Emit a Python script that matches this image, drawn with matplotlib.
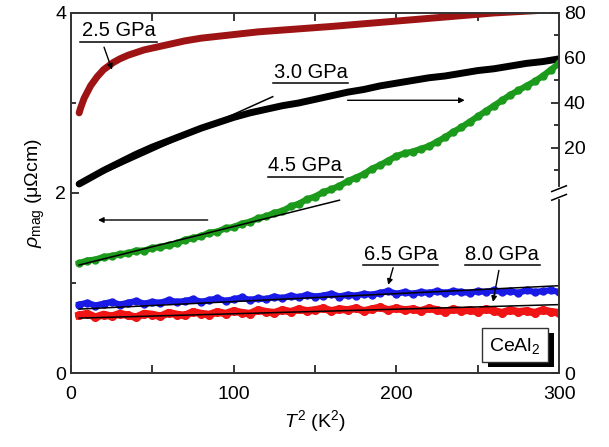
import matplotlib
matplotlib.use("Agg")
import matplotlib.pyplot as plt
from matplotlib.patches import Rectangle
import numpy as np

plt.rcParams['font.family'] = ['Liberation Sans', 'DejaVu Sans']
plt.rcParams['mathtext.fontset'] = 'custom'
plt.rcParams['mathtext.it'] = 'Liberation Sans:italic'
plt.rcParams['mathtext.rm'] = 'Liberation Sans'

# ---- data (T^2 in K^2, rho_mag in left-axis units) ----
x25 = [5, 6, 7, 8, 10, 12, 14, 16, 18, 20, 23, 26, 30, 35, 40, 45, 50, 60, 70, 80,
       90, 100, 115, 130, 145, 160, 180, 200, 220, 240, 260, 280, 300]
y25 = [2.89, 2.95, 3.00, 3.05, 3.12, 3.19, 3.24, 3.29, 3.33, 3.37, 3.41, 3.45, 3.49,
       3.53, 3.56, 3.59, 3.61, 3.65, 3.69, 3.72, 3.74, 3.76, 3.79, 3.81, 3.83, 3.85,
       3.88, 3.91, 3.94, 3.97, 4.00, 4.02, 4.04]

x30 = [5, 10, 20, 30, 40, 50, 60, 70, 80, 90, 100, 110, 120, 130, 140, 150, 160, 170,
       180, 190, 200, 210, 220, 230, 240, 250, 260, 270, 280, 290, 300]
y30 = [2.10, 2.15, 2.25, 2.34, 2.43, 2.51, 2.58, 2.65, 2.72, 2.78, 2.84, 2.89, 2.93,
       2.97, 3.00, 3.04, 3.08, 3.12, 3.15, 3.19, 3.22, 3.25, 3.28, 3.30, 3.33, 3.36,
       3.38, 3.41, 3.44, 3.46, 3.49]

x_noisy = list(range(5, 301, 5))
y45 = [1.22, 1.25, 1.26, 1.29, 1.30, 1.32, 1.33, 1.36, 1.36, 1.39, 1.40, 1.42, 1.44,
       1.48, 1.50, 1.52, 1.56, 1.57, 1.61, 1.62, 1.66, 1.68, 1.72, 1.74, 1.78, 1.80,
       1.85, 1.88, 1.93, 1.96, 2.01, 2.04, 2.08, 2.13, 2.17, 2.21, 2.27, 2.31, 2.36,
       2.41, 2.44, 2.46, 2.49, 2.52, 2.57, 2.62, 2.68, 2.73, 2.79, 2.85, 2.91, 2.97,
       3.03, 3.09, 3.14, 3.19, 3.24, 3.30, 3.37, 3.44]
y65 = [0.76, 0.78, 0.75, 0.77, 0.79, 0.76, 0.78, 0.80, 0.77, 0.79, 0.78, 0.81, 0.79,
       0.80, 0.82, 0.79, 0.81, 0.83, 0.80, 0.82, 0.84, 0.81, 0.83, 0.82, 0.85, 0.83,
       0.86, 0.84, 0.87, 0.85, 0.86, 0.88, 0.85, 0.87, 0.86, 0.88, 0.87, 0.89, 0.91,
       0.88, 0.90, 0.88, 0.90, 0.89, 0.91, 0.89, 0.91, 0.90, 0.89, 0.91, 0.90, 0.92,
       0.90, 0.91, 0.89, 0.92, 0.90, 0.91, 0.92, 0.90]
y80 = [0.64, 0.66, 0.62, 0.65, 0.63, 0.66, 0.64, 0.62, 0.66, 0.65, 0.63, 0.67, 0.65,
       0.64, 0.68, 0.66, 0.65, 0.68, 0.66, 0.69, 0.67, 0.66, 0.70, 0.68, 0.67, 0.70,
       0.68, 0.71, 0.69, 0.70, 0.72, 0.69, 0.71, 0.70, 0.72, 0.69, 0.71, 0.73, 0.70,
       0.72, 0.70, 0.71, 0.69, 0.72, 0.70, 0.68, 0.71, 0.69, 0.70, 0.68, 0.71, 0.69,
       0.67, 0.70, 0.68, 0.69, 0.67, 0.70, 0.68, 0.67]

# linear fits drawn as thin lines: (x0, x1), (y0, y1)
fit30 = ([5, 124], [2.10, 3.07])
fit45 = ([5, 165], [1.20, 1.92])
fit65 = ([5, 300], [0.71, 0.97])
fit80 = ([5, 300], [0.61, 0.76])

right_ticks = [0, 2.5, 3.0, 3.5, 4.0]
right_labels = ['0', '20', '40', '60', '80']

fig = plt.figure(figsize=(6.09, 4.47), dpi=100)
ax = fig.add_axes([0.1166, 0.1655, 0.8014, 0.8055])

ax.plot(x25, y25, color='#9e1414', lw=5, solid_capstyle='round')
ax.plot(x30, y30, color='black', lw=5, solid_capstyle='round')
ax.plot(x_noisy, y45, color='#1c9a1c', lw=4.5, marker='o', ms=5)
ax.plot(x_noisy, y65, color='#1a1ae6', lw=4.5, marker='o', ms=5)
ax.plot(x_noisy, y80, color='#f01414', lw=5.5, marker='o', ms=5.5)

for fx, fy in (fit30, fit45, fit65, fit80):
    ax.plot(fx, fy, color='black', lw=1.1)

ax.set_xlim(0, 300)
ax.set_ylim(0, 4)
ax.set_xticks([0, 100, 200, 300])
ax.set_xticks([50, 150, 250], minor=True)
ax.set_yticks([0, 2, 4])
ax.set_yticks([1, 3], minor=True)
ax.tick_params(which='both', direction='in', top=True, labelsize=14, width=1.1)
ax.tick_params(axis='x', which='both', length=6, pad=9)
ax.tick_params(axis='y', which='major', length=6)
ax.tick_params(axis='y', which='minor', length=3.5)
ax.tick_params(axis='y', right=False)
for s in ax.spines.values():
    s.set_linewidth(1.2)
    s.set_color('#333333')

ax2 = ax.twinx()
ax2.set_ylim(0, 4)
ax2.set_yticks(right_ticks)
ax2.set_yticklabels(right_labels)
ax2.set_yticks([2.25, 2.75, 3.25, 3.75], minor=True)
ax2.tick_params(which='both', direction='in', labelsize=14, width=1.1)
ax2.tick_params(which='major', length=6)
ax2.tick_params(which='minor', length=3.5)
for s in ax2.spines.values():
    s.set_linewidth(1.2)
    s.set_color('#333333')

# axis break on the right spine
ax2.plot([1, 1], [0.488, 0.512], transform=ax2.transAxes, color='white', lw=3,
         clip_on=False, zorder=5)
for dy in (-0.012, 0.012):
    ax2.plot([0.985, 1.015], [0.492 + dy, 0.508 + dy], transform=ax2.transAxes,
             color='black', lw=1.1, clip_on=False, zorder=6)

ax.set_xlabel('$T^2$ (K$^2$)', fontsize=14, labelpad=4)
ax.set_ylabel(r'$\rho_{\rm mag}$ ($\mathrm{\mu\Omega}$cm)', fontsize=14, labelpad=6)

# labels with underlines and arrows
labels = [('2.5 GPa', 5.5, 52.9, 3.68), ('3.0 GPa', 124.2, 170.3, 3.22),
          ('4.5 GPa', 121, 167, 2.18), ('6.5 GPa', 179.5, 225.6, 1.20),
          ('8.0 GPa', 242, 288, 1.20)]
for txt, x0, x1, yu in labels:
    ax.text((x0 + x1) / 2, yu + 0.015, txt, fontsize=14.5, ha='center', va='bottom')
    ax.plot([x0, x1], [yu, yu], color='black', lw=1.1)

arrows = [((20.3, 3.62), (25.2, 3.37)), ((170, 3.03), (242, 3.03)),
          ((84, 1.70), (16.6, 1.70)), ((198, 1.17), (195, 0.98)),
          ((263, 1.14), (259.4, 0.79))]
for (sx, sy), (ex, ey) in arrows:
    ax.annotate('', xy=(ex, ey), xytext=(sx, sy),
                arrowprops=dict(arrowstyle='-|>', color='black', lw=1.0,
                                mutation_scale=8, shrinkA=0, shrinkB=0))

# CeAl2 box with shadow
ax.add_patch(Rectangle((256.3, 0.067), 40.5, 0.378, facecolor='black', zorder=7))
ax.add_patch(Rectangle((252.6, 0.122), 40.5, 0.378, facecolor='white',
                       edgecolor='#333333', lw=1.0, zorder=8))
ax.text(272.8, 0.30, 'CeAl$_2$', fontsize=14, ha='center', va='center', zorder=9)

fig.savefig('out.png', dpi=100)
